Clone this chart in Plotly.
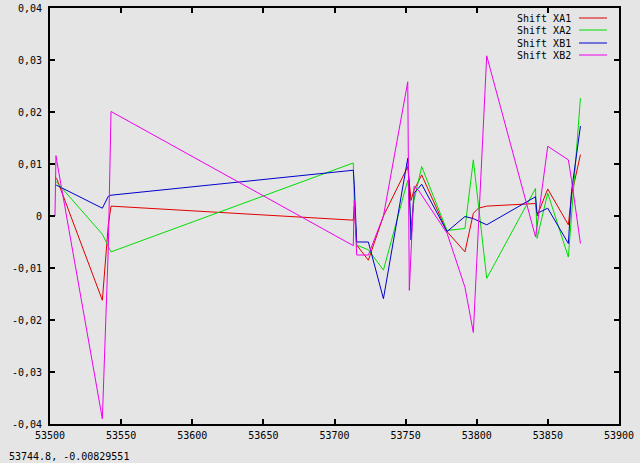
import plotly.graph_objects as go

# Shared observation dates (MJD)
dates = [53503.5, 53504.2, 53504.7, 53536.8, 53541.0, 53542.9, 53713.2, 53713.9,
         53715.6, 53723.8, 53734.4, 53751.5, 53752.6, 53753.8, 53755.9, 53758.9,
         53761.3, 53779.1, 53791.7, 53797.6, 53801.1, 53807.0, 53841.3, 53842.4,
         53849.9, 53864.4, 53866.6, 53872.9]

shift_xa1 = [0.0075, 0.0074, 0.0072, -0.0162, -0.0017, 0.0019, -0.0008, 0.0020,
             -0.0056, -0.0085, 0.0000, 0.0095, 0.0060, 0.0030, 0.0050, 0.0068,
             0.0079, -0.0030, -0.0069, 0.0005, 0.0015, 0.0019, 0.0024, 0.0000,
             0.0052, -0.0017, 0.0040, 0.0118]

shift_xa2 = [0.0067, 0.0066, 0.0065, -0.0035, -0.0057, -0.0069, 0.0102, 0.0030,
             -0.0056, -0.0065, -0.0104, 0.0069, 0.0030, -0.0017, 0.0030, 0.0070,
             0.0095, -0.0028, -0.0024, 0.0108, 0.0023, -0.0120, 0.0053, -0.0043,
             0.0044, -0.0079, 0.0000, 0.0227]

shift_xb1 = [0.0060, 0.0059, 0.0059, 0.0015, 0.0038, 0.0040, 0.0088, 0.0060,
             -0.0050, -0.0050, -0.0159, 0.0111, 0.0057, -0.0046, 0.0044, 0.0053,
             0.0061, -0.0030, -0.0001, -0.0005, -0.0009, -0.0017, 0.0037, 0.0005,
             0.0015, -0.0053, 0.0047, 0.0173]

shift_xb2 = [0.0000, 0.0116, 0.0107, -0.0390, -0.0060, 0.0201, -0.0057, 0.0030,
             -0.0075, -0.0075, 0.0000, 0.0258, -0.0143, -0.0070, 0.0057, 0.0050,
             0.0040, -0.0033, -0.0137, -0.0224, -0.0026, 0.0308, -0.0040, -0.0020,
             0.0134, 0.0108, 0.0070, -0.0053]

series_names = ["Shift XA1", "Shift XA2", "Shift XB1", "Shift XB2"]
series_colors = ["#e00000", "#00dd00", "#0000cc", "#ee00ee"]

x_tickvals = [53500, 53550, 53600, 53650, 53700, 53750, 53800, 53850, 53900]
x_ticktext = ["53500", "53550", "53600", "53650", "53700", "53750", "53800", "53850", "53900"]
y_tickvals = [0.04, 0.03, 0.02, 0.01, 0.0, -0.01, -0.02, -0.03, -0.04]
y_ticktext = ["0,04", "0,03", "0,02", "0,01", "0", "-0,01", "-0,02", "-0,03", "-0,04"]

status_text = "53744.8, -0.00829551"

FONT = "DejaVu Sans Mono"
BG = "#e5e5e5"

# plot area in pixels
L, R, T, B = 50, 619, 8, 424
W, H = 640, 463
PW, PH = R - L, B - T

def px_x(p):
    return (p - L) / PW

def px_y(p):
    return (B - p) / PH

fig = go.Figure()
for name, vals, col in zip(series_names, [shift_xa1, shift_xa2, shift_xb1, shift_xb2], series_colors):
    fig.add_trace(go.Scatter(x=dates, y=vals, mode="lines", name=name,
                             line=dict(color=col, width=1), hoverinfo="skip",
                             showlegend=False))

axis_common = dict(showgrid=False, zeroline=False, showline=True, linecolor="#000000",
                   linewidth=2, mirror="ticks", ticks="inside", ticklen=5,
                   tickcolor="#000000", tickwidth=2, automargin=False,
                   tickfont=dict(family=FONT, size=10, color="#000000"))

fig.update_layout(
    template="none",
    width=W, height=H,
    margin=dict(l=L, r=W - R, t=T, b=H - B, pad=0),
    paper_bgcolor=BG, plot_bgcolor=BG,
    font=dict(family=FONT, size=10, color="#000000"),
    showlegend=False,
    xaxis=dict(range=[53500, 53900], tickvals=x_tickvals, ticktext=x_ticktext,
               ticklabelstandoff=1, **axis_common),
    yaxis=dict(range=[-0.04, 0.04], tickvals=y_tickvals, ticktext=y_ticktext,
               ticklabelstandoff=4, **axis_common),
)

# gnuplot-style key: label right-aligned, sample line to the right
key_rows = [18, 30, 43, 55]
for name, col, ry in zip(series_names, series_colors, key_rows):
    fig.add_annotation(text=name, xref="paper", yref="paper", x=px_x(573), y=px_y(ry),
                       xanchor="right", yanchor="middle", showarrow=False,
                       font=dict(family=FONT, size=10, color="#000000"))
    fig.add_shape(type="line", xref="paper", yref="paper",
                  x0=px_x(579), x1=px_x(607), y0=px_y(ry), y1=px_y(ry),
                  line=dict(color=col, width=1))

fig.add_annotation(text=status_text, xref="paper", yref="paper",
                   x=px_x(7), y=px_y(456), xanchor="left", yanchor="middle",
                   showarrow=False, font=dict(family=FONT, size=10, color="#000000"))

fig.write_html("out.html", config={"displayModeBar": False, "staticPlot": True},
               post_script="document.body.style.margin='0';document.body.style.overflow='hidden';")
